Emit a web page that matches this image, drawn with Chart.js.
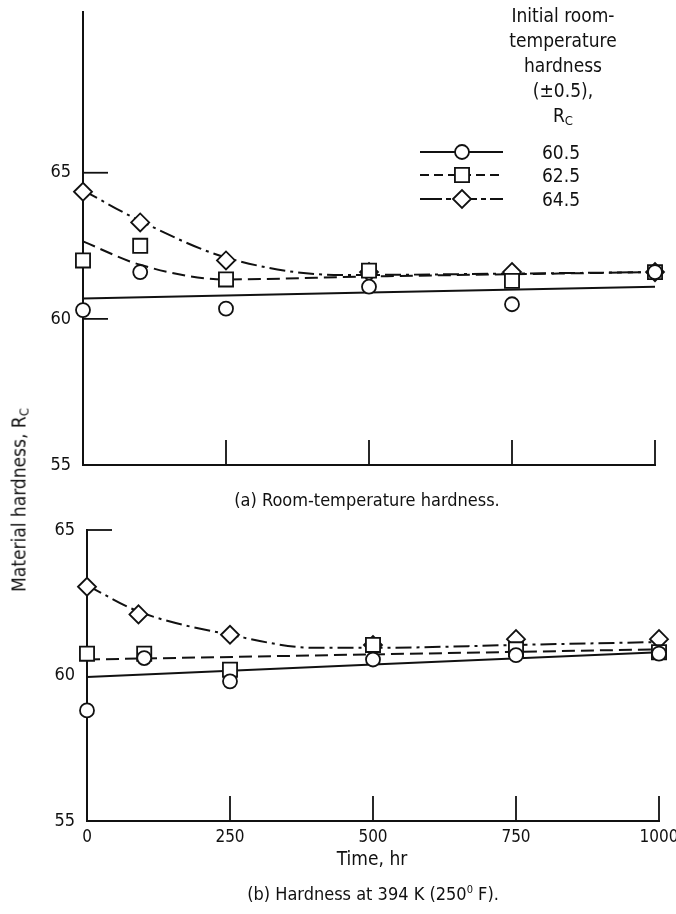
<!DOCTYPE html>
<html>
<head>
<meta charset="utf-8">
<script src="https://cdn.jsdelivr.net/npm/chart.js@4.4.1/dist/chart.umd.min.js"></script>
<style>
  body{margin:0;background:#fff;width:676px;height:914px;position:relative;overflow:hidden;
       font-family:"Liberation Sans Narrow","DejaVu Sans Condensed",sans-serif;color:#111}
  .wrap{position:absolute;left:0;width:676px}
  .t{position:absolute;white-space:nowrap;font-size:19px;transform:translate(-50%,-50%);line-height:1}
  .legtitle{position:absolute;left:463px;top:3px;width:200px;text-align:center;font-size:19px;line-height:25px}
  sub{font-size:13px;vertical-align:-3px}
  sup{font-size:11px;vertical-align:7px}
</style>
</head>
<body>
<div class="wrap" style="top:0;height:480px"><canvas id="chartA"></canvas></div>
<div class="wrap" style="top:480px;height:434px"><canvas id="chartB"></canvas></div>

<div class="legtitle">Initial room-<br>temperature<br>hardness<br>(±0.5),<br>R<sub>C</sub></div>
<div class="t" style="left:561px;top:152px">60.5</div>
<div class="t" style="left:561px;top:175px">62.5</div>
<div class="t" style="left:561px;top:199px">64.5</div>

<div class="t" style="left:20px;top:500px;transform:translate(-50%,-50%) rotate(-90deg)">Material hardness, R<sub>C</sub></div>
<div class="t" style="left:367px;top:500px;font-size:18px">(a) Room-temperature hardness.</div>
<div class="t" style="left:372px;top:858px">Time, hr</div>
<div class="t" style="left:373px;top:893px;font-size:18px">(b) Hardness at 394 K (250<sup>0</sup> F).</div>

<script>
// ---- data ----
const hours      = [0, 100, 250, 500, 750, 1000];
const hoursB645  = [0, 90, 250, 500, 750, 1000];

// (a) room-temperature hardness, measured
const roomHard605 = [60.3, 61.6, 60.35, 61.1, 60.5, 61.6];
const roomHard625 = [62.0, 62.5, 61.35, 61.65, 61.3, 61.6];
const roomHard645 = [64.35, 63.3, 62.0, 61.6, 61.6, 61.6];
// (a) faired curves
const roomFit605X = [0, 1000];
const roomFit605  = [60.7, 61.1];
const roomFit625X = [0, 100, 250, 500, 1000];
const roomFit625  = [62.65, 61.85, 61.35, 61.45, 61.6];
const roomFit645X = [0, 100, 250, 450, 750, 1000];
const roomFit645  = [64.4, 63.35, 62.1, 61.5, 61.55, 61.6];

// (b) hardness at 394 K, measured
const hotHard605 = [58.8, 60.6, 59.8, 60.55, 60.7, 60.75];
const hotHard625 = [60.75, 60.75, 60.2, 61.05, 60.9, 60.8];
const hotHard645 = [63.05, 62.1, 61.4, 61.05, 61.25, 61.25];
// (b) faired curves
const hotFit605X = [0, 1000];
const hotFit605  = [59.95, 60.8];
const hotFit625X = [0, 1000];
const hotFit625  = [60.55, 60.9];
const hotFit645X = [0, 90, 250, 400, 500, 750, 1000];
const hotFit645  = [63.1, 62.2, 61.4, 60.95, 60.95, 61.05, 61.15];

const xTicks  = [0, 250, 500, 750, 1000];
const yTicksA = [55, 60, 65];
const yTicksB = [55, 60, 65];

// ---- styles ----
const INK = '#111';
const FAMILY = '"Liberation Sans Narrow","DejaVu Sans Condensed",sans-serif';
const DASH = [13, 6];
const DASHDOT = [16, 5, 3, 5];

const pts = (xs, ys) => xs.map((x, i) => ({x, y: ys[i]}));

const markerDs = (data, style, r) => ({
  data, showLine:false, pointStyle:style, pointRadius:r,
  pointBackgroundColor:'#fff', pointBorderColor:INK, pointBorderWidth:1.8, clip:false
});
const curveDs = (data, dash) => ({
  data, showLine:true, borderColor:INK, borderWidth:2, borderDash:dash,
  pointRadius:0, cubicInterpolationMode:'monotone', clip:false
});

// inward tick marks (up from x axis, right from y axis)
const tickMarks = {
  id:'tickMarks',
  afterDraw(chart, args, opts){
    const {ctx, scales:{x, y}} = chart;
    ctx.save();
    ctx.strokeStyle = INK; ctx.lineWidth = 1.8;
    (opts.x || []).forEach(v=>{
      const px = x.getPixelForValue(v);
      ctx.beginPath(); ctx.moveTo(px, y.bottom); ctx.lineTo(px, y.bottom - opts.len); ctx.stroke();
    });
    (opts.y || []).forEach(v=>{
      const py = y.getPixelForValue(v);
      ctx.beginPath(); ctx.moveTo(x.left, py); ctx.lineTo(x.left + opts.len, py); ctx.stroke();
    });
    ctx.restore();
  }
};

// legend line samples with symbols
function marker(ctx, style, x, y, r){
  ctx.beginPath();
  if(style==='circle') ctx.arc(x, y, r, 0, Math.PI*2);
  else if(style==='rect'){ const s = r*Math.SQRT1_2; ctx.rect(x-s, y-s, 2*s, 2*s); }
  else { ctx.moveTo(x-r, y); ctx.lineTo(x, y-r); ctx.lineTo(x+r, y); ctx.lineTo(x, y+r); ctx.closePath(); }
  ctx.fillStyle = '#fff'; ctx.fill(); ctx.stroke();
}
const legendSamples = {
  id:'legendSamples',
  afterDraw(chart, args, opts){
    if(!opts.rows) return;
    const ctx = chart.ctx;
    opts.rows.forEach(r=>{
      ctx.save();
      ctx.strokeStyle = INK; ctx.lineWidth = 2; ctx.setLineDash(r.dash);
      ctx.beginPath(); ctx.moveTo(opts.x0, r.y); ctx.lineTo(opts.x1, r.y); ctx.stroke();
      ctx.setLineDash([]); ctx.lineWidth = 1.8;
      marker(ctx, r.style, opts.xm, r.y, r.r);
      ctx.restore();
    });
  }
};

// fixed axis sizes, no extra room for end labels
const fixY = w => s => { s.width = w; s.paddingTop = 0; s.paddingBottom = 0; };
const fixX = h => s => { s.height = h; s.paddingLeft = 0; s.paddingRight = 0; };

function axisOpts(extra){
  return Object.assign({
    type:'linear',
    grid:{drawOnChartArea:false, drawTicks:false},
    border:{color:INK, width:2}
  }, extra);
}

// ---- (a) ----
new Chart(document.getElementById('chartA'), {
  type:'scatter',
  data:{datasets:[
    markerDs(pts(hours, roomHard605), 'circle', 7),
    markerDs(pts(hours, roomHard625), 'rect', 10),
    markerDs(pts(hours, roomHard645), 'rectRot', 9),
    curveDs(pts(roomFit605X, roomFit605), []),
    curveDs(pts(roomFit625X, roomFit625), DASH),
    curveDs(pts(roomFit645X, roomFit645), DASHDOT)
  ]},
  options:{
    responsive:true, maintainAspectRatio:false, animation:false,
    layout:{padding:{top:12, right:21, left:0, bottom:0}},
    plugins:{
      legend:{display:false}, tooltip:{enabled:false},
      tickMarks:{x:[250, 500, 750, 1000], y:[60, 65], len:25},
      legendSamples:{x0:420, x1:503, xm:462, rows:[
        {y:152, dash:[], style:'circle', r:7},
        {y:175, dash:[9, 5], style:'rect', r:10},
        {y:199, dash:[22, 4, 5, 4], style:'rectRot', r:9}
      ]}
    },
    scales:{
      x:axisOpts({min:0, max:1000, afterFit:fixX(15), ticks:{display:false}}),
      y:axisOpts({min:55, max:70.5, afterFit:fixY(83),
        afterBuildTicks:s=>{s.ticks = yTicksA.map(v=>({value:v}));},
        ticks:{color:INK, font:{family:FAMILY, size:18}, padding:12}})
    }
  },
  plugins:[tickMarks, legendSamples]
});

// ---- (b) ----
new Chart(document.getElementById('chartB'), {
  type:'scatter',
  data:{datasets:[
    markerDs(pts(hours, hotHard605), 'circle', 7),
    markerDs(pts(hours, hotHard625), 'rect', 10),
    markerDs(pts(hoursB645, hotHard645), 'rectRot', 9),
    curveDs(pts(hotFit605X, hotFit605), []),
    curveDs(pts(hotFit625X, hotFit625), DASH),
    curveDs(pts(hotFit645X, hotFit645), DASHDOT)
  ]},
  options:{
    responsive:true, maintainAspectRatio:false, animation:false,
    layout:{padding:{top:50, right:17, left:0, bottom:0}},
    plugins:{
      legend:{display:false}, tooltip:{enabled:false},
      tickMarks:{x:[250, 500, 750, 1000], y:[65], len:25}
    },
    scales:{
      x:axisOpts({min:0, max:1000, afterFit:fixX(93),
        afterBuildTicks:s=>{s.ticks = xTicks.map(v=>({value:v}));},
        ticks:{color:INK, font:{family:FAMILY, size:17}, padding:6, maxRotation:0, callback:v=>String(v)}}),
      y:axisOpts({min:55, max:65, afterFit:fixY(87),
        afterBuildTicks:s=>{s.ticks = yTicksB.map(v=>({value:v}));},
        ticks:{color:INK, font:{family:FAMILY, size:18}, padding:12}})
    }
  },
  plugins:[tickMarks]
});
</script>
</body>
</html>
